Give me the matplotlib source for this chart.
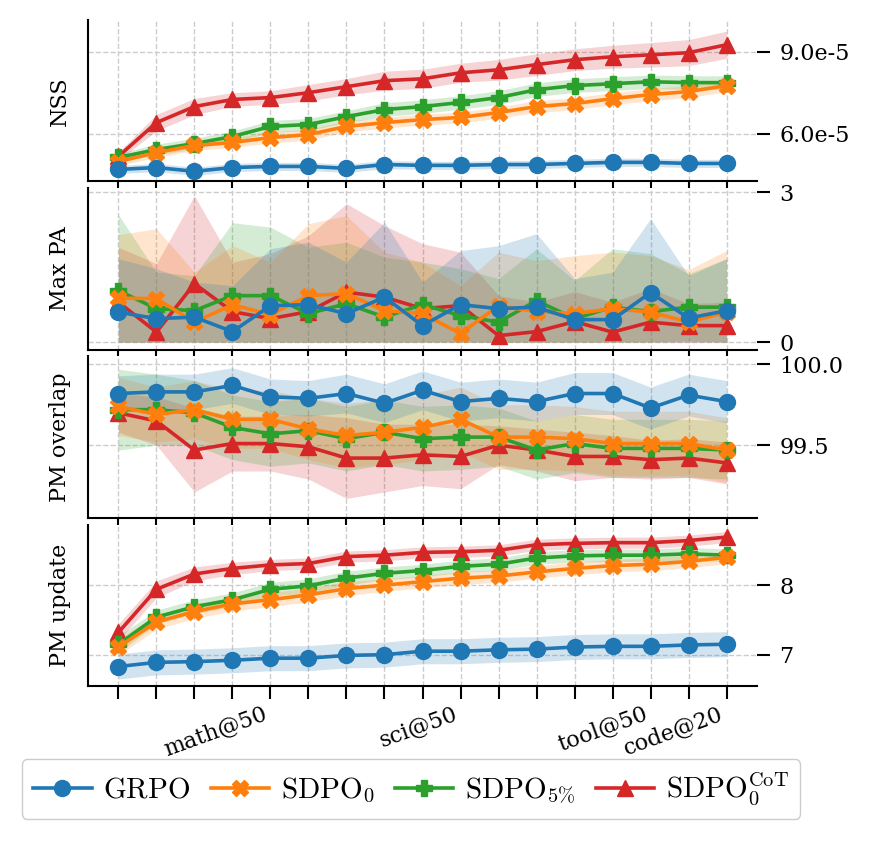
import numpy as np
import matplotlib
matplotlib.use("Agg")
import matplotlib.pyplot as plt
from matplotlib.ticker import MultipleLocator, FuncFormatter, FormatStrFormatter

plt.rcParams['font.family'] = ['DejaVu Serif']
plt.rcParams['mathtext.fontset'] = 'cm'

steps = np.arange(17)
tick_label_pos = [4, 9, 14, 16]
tick_labels = ['math@50', 'sci@50', 'tool@50', 'code@20']

methods = ['GRPO', 'SDPO0', 'SDPO5', 'SDPO0CoT']
legend_labels = [r'$\mathrm{GRPO}$', r'$\mathrm{SDPO}_0$', r'$\mathrm{SDPO}_{5\%}$',
                 r'$\mathrm{SDPO}_0^{\mathrm{CoT}}$']
colors = ['#1f77b4', '#ff7f0e', '#2ca02c', '#d62728']
markers = ['o', 'X', 'P', '^']

# NSS (units of 1e-5)
nss_grpo = [4.68, 4.75, 4.61, 4.75, 4.79, 4.79, 4.72, 4.86, 4.83, 4.83, 4.86, 4.86, 4.90, 4.94, 4.94, 4.90, 4.90]
nss_sdpo0 = [4.97, 5.30, 5.56, 5.67, 5.85, 5.96, 6.26, 6.40, 6.51, 6.59, 6.77, 6.99, 7.10, 7.28, 7.43, 7.54, 7.76]
nss_sdpo5 = [5.12, 5.41, 5.63, 5.89, 6.26, 6.33, 6.62, 6.88, 6.99, 7.14, 7.32, 7.61, 7.76, 7.83, 7.90, 7.87, 7.87]
nss_cot = [5.16, 6.40, 6.99, 7.25, 7.32, 7.50, 7.72, 7.94, 8.01, 8.23, 8.34, 8.53, 8.71, 8.82, 8.89, 8.97, 9.26]
nss_std_grpo = [0.15] * 17
nss_std_sdpo0 = [0.15, 0.18, 0.18, 0.18, 0.2, 0.2, 0.2, 0.2, 0.2, 0.2, 0.2, 0.22, 0.22, 0.22, 0.22, 0.22, 0.22]
nss_std_sdpo5 = [0.15, 0.2, 0.2, 0.2, 0.22, 0.22, 0.22, 0.25, 0.25, 0.25, 0.25, 0.25, 0.25, 0.25, 0.25, 0.25, 0.25]
nss_std_cot = [0.15, 0.3, 0.3, 0.25, 0.25, 0.3, 0.3, 0.35, 0.35, 0.35, 0.38, 0.4, 0.4, 0.42, 0.45, 0.48, 0.5]

# Max PA
pa_grpo = [0.60, 0.47, 0.50, 0.21, 0.73, 0.75, 0.57, 0.90, 0.33, 0.75, 0.67, 0.70, 0.45, 0.45, 0.99, 0.48, 0.63]
pa_sdpo0 = [0.88, 0.87, 0.40, 0.75, 0.55, 0.93, 0.97, 0.63, 0.57, 0.17, 0.73, 0.61, 0.57, 0.67, 0.60, 0.40, 0.60]
pa_sdpo5 = [1.03, 0.67, 0.63, 0.93, 0.93, 0.57, 0.77, 0.50, 0.75, 0.53, 0.40, 0.83, 0.47, 0.70, 0.61, 0.70, 0.70]
pa_cot = [0.80, 0.20, 1.17, 0.61, 0.47, 0.61, 1.00, 0.90, 0.67, 0.73, 0.13, 0.21, 0.41, 0.20, 0.40, 0.33, 0.33]
pa_std_grpo = [1.07, 1.00, 0.70, 0.92, 1.14, 1.25, 1.03, 1.50, 0.87, 1.08, 1.26, 1.47, 0.82, 0.95, 1.48, 0.85, 1.04]
pa_std_sdpo0 = [1.27, 1.40, 1.00, 1.18, 1.05, 1.44, 1.56, 1.17, 1.03, 0.96, 1.07, 1.02, 1.16, 1.13, 1.13, 1.05, 1.23]
pa_std_sdpo5 = [1.52, 0.73, 0.70, 1.46, 1.37, 1.33, 1.23, 1.20, 0.85, 0.94, 0.87, 1.04, 0.76, 1.17, 1.16, 0.67, 0.97]
pa_std_cot = [1.10, 1.37, 1.76, 0.99, 1.30, 1.52, 1.77, 1.43, 1.30, 1.07, 0.80, 0.59, 0.60, 0.60, 0.67, 0.44, 0.47]

# PM overlap
ov_grpo = [99.82, 99.83, 99.83, 99.87, 99.80, 99.79, 99.82, 99.76, 99.84, 99.77, 99.79, 99.77, 99.82, 99.82, 99.73, 99.81, 99.77]
ov_sdpo0 = [99.74, 99.69, 99.72, 99.66, 99.66, 99.60, 99.56, 99.58, 99.61, 99.66, 99.55, 99.55, 99.54, 99.51, 99.51, 99.51, 99.47]
ov_sdpo5 = [99.72, 99.72, 99.70, 99.61, 99.57, 99.59, 99.54, 99.58, 99.54, 99.55, 99.55, 99.47, 99.51, 99.48, 99.48, 99.48, 99.47]
ov_cot = [99.70, 99.65, 99.47, 99.51, 99.51, 99.49, 99.42, 99.42, 99.44, 99.43, 99.50, 99.47, 99.43, 99.43, 99.41, 99.42, 99.39]
ov_std_grpo = [0.11, 0.11, 0.11, 0.11, 0.11, 0.11, 0.12, 0.12, 0.12, 0.12, 0.12, 0.12, 0.13, 0.13, 0.13, 0.13, 0.13]
ov_std_sdpo0 = [0.18, 0.17, 0.18, 0.18, 0.18, 0.19, 0.2, 0.2, 0.2, 0.2, 0.2, 0.2, 0.2, 0.2, 0.2, 0.2, 0.2]
ov_std_sdpo5 = [0.25, 0.22, 0.2, 0.2, 0.2, 0.2, 0.2, 0.2, 0.2, 0.2, 0.18, 0.18, 0.18, 0.18, 0.18, 0.18, 0.18]
ov_std_cot = [0.12, 0.15, 0.26, 0.17, 0.17, 0.2, 0.25, 0.21, 0.19, 0.2, 0.12, 0.13, 0.15, 0.13, 0.12, 0.12, 0.13]

# PM update
up_grpo = [6.83, 6.89, 6.90, 6.92, 6.95, 6.95, 6.99, 7.00, 7.05, 7.05, 7.07, 7.08, 7.11, 7.12, 7.12, 7.14, 7.15]
up_sdpo0 = [7.11, 7.47, 7.62, 7.73, 7.79, 7.86, 7.95, 8.00, 8.05, 8.10, 8.13, 8.19, 8.24, 8.28, 8.30, 8.34, 8.40]
up_sdpo5 = [7.15, 7.54, 7.69, 7.79, 7.94, 7.99, 8.10, 8.17, 8.21, 8.27, 8.30, 8.39, 8.42, 8.43, 8.43, 8.45, 8.43]
up_cot = [7.32, 7.94, 8.16, 8.24, 8.29, 8.31, 8.41, 8.43, 8.47, 8.48, 8.50, 8.58, 8.60, 8.61, 8.61, 8.64, 8.69]
up_std_grpo = [0.18] * 17
up_std_sdpo0 = [0.12, 0.1, 0.1, 0.1, 0.1, 0.1, 0.1, 0.09, 0.09, 0.09, 0.09, 0.09, 0.09, 0.09, 0.09, 0.09, 0.09]
up_std_sdpo5 = [0.12, 0.1, 0.1, 0.1, 0.1, 0.1, 0.1, 0.09, 0.09, 0.09, 0.09, 0.09, 0.09, 0.09, 0.09, 0.09, 0.09]
up_std_cot = [0.12, 0.12, 0.1, 0.09, 0.08, 0.08, 0.08, 0.08, 0.08, 0.08, 0.08, 0.08, 0.08, 0.08, 0.08, 0.08, 0.08]

panels = [
    ('NSS', [nss_grpo, nss_sdpo0, nss_sdpo5, nss_cot],
     [nss_std_grpo, nss_std_sdpo0, nss_std_sdpo5, nss_std_cot], 1e-5),
    ('Max PA', [pa_grpo, pa_sdpo0, pa_sdpo5, pa_cot],
     [pa_std_grpo, pa_std_sdpo0, pa_std_sdpo5, pa_std_cot], 1.0),
    ('PM overlap', [ov_grpo, ov_sdpo0, ov_sdpo5, ov_cot],
     [ov_std_grpo, ov_std_sdpo0, ov_std_sdpo5, ov_std_cot], 1.0),
    ('PM update', [up_grpo, up_sdpo0, up_sdpo5, up_cot],
     [up_std_grpo, up_std_sdpo0, up_std_sdpo5, up_std_cot], 1.0),
]

fig = plt.figure(figsize=(8.77, 8.41), dpi=100)
gs = fig.add_gridspec(4, 1, left=88 / 877, right=757 / 877, top=1 - 20 / 841,
                      bottom=1 - 686 / 841, hspace=0.042)
axes = [fig.add_subplot(gs[i]) for i in range(4)]

handles = []
for pi, (ax, (name, means, stds, scale)) in enumerate(zip(axes, panels)):
    for k in [3, 2, 1, 0]:
        m = np.array(means[k]) * scale
        s = np.array(stds[k]) * scale
        lo = m - s
        if name == 'Max PA':
            lo = np.clip(lo, 0, None)
        ax.fill_between(steps, lo, m + s, color=colors[k], alpha=0.2, linewidth=0,
                        zorder=1)
        ln, = ax.plot(steps, m, color=colors[k], marker=markers[k], lw=2.6, ms=11.5,
                      zorder=3 + (3 - k), label=legend_labels[k])
        if pi == 0:
            handles.append((k, ln))
    ax.set_ylabel(name, fontsize=16, labelpad=12)
    ax.yaxis.tick_right()
    ax.spines['top'].set_visible(False)
    ax.spines['right'].set_visible(False)
    ax.spines['left'].set_linewidth(1.5)
    ax.spines['bottom'].set_linewidth(1.5)
    ax.tick_params(axis='y', labelsize=16, length=9, width=1.5, pad=7)
    ax.tick_params(axis='x', length=9, width=1.5)
    ax.grid(True, linestyle='--', color='#cccccc', linewidth=1.0)
    ax.set_axisbelow(True)
    ax.set_xticks(steps)
    ax.set_xlim(-0.8, 16.8)
    if pi < 3:
        ax.set_xticklabels([])
    else:
        ax.set_xticklabels([tick_labels[tick_label_pos.index(i)] if i in tick_label_pos else ''
                            for i in steps], rotation=20, ha='right', fontsize=16)

axes[0].set_ylim(4.24e-5, 10.17e-5)
axes[0].yaxis.set_major_locator(MultipleLocator(3e-5))
axes[0].yaxis.set_major_formatter(FuncFormatter(lambda v, p: f"{v / 1e-5:.1f}e-5"))
axes[1].set_ylim(-0.15, 3.08)
axes[1].yaxis.set_major_locator(MultipleLocator(3))
axes[2].set_ylim(99.05, 100.05)
axes[2].yaxis.set_major_locator(MultipleLocator(0.5))
axes[2].yaxis.set_major_formatter(FormatStrFormatter('%.1f'))
axes[3].set_ylim(6.55, 8.87)
axes[3].yaxis.set_major_locator(MultipleLocator(1))

fig.align_ylabels(axes)

handles = [h for _, h in sorted(handles, key=lambda t: t[0])]
fig.legend(handles, legend_labels, loc='upper center', ncol=4,
           bbox_to_anchor=(411 / 877, 1 - 759 / 841), fontsize=21,
           handlelength=2.0, handletextpad=0.4, columnspacing=0.7,
           borderpad=0.4, borderaxespad=0, fancybox=True, edgecolor='#cccccc',
           framealpha=1)

fig.savefig('out.png', dpi=100)
